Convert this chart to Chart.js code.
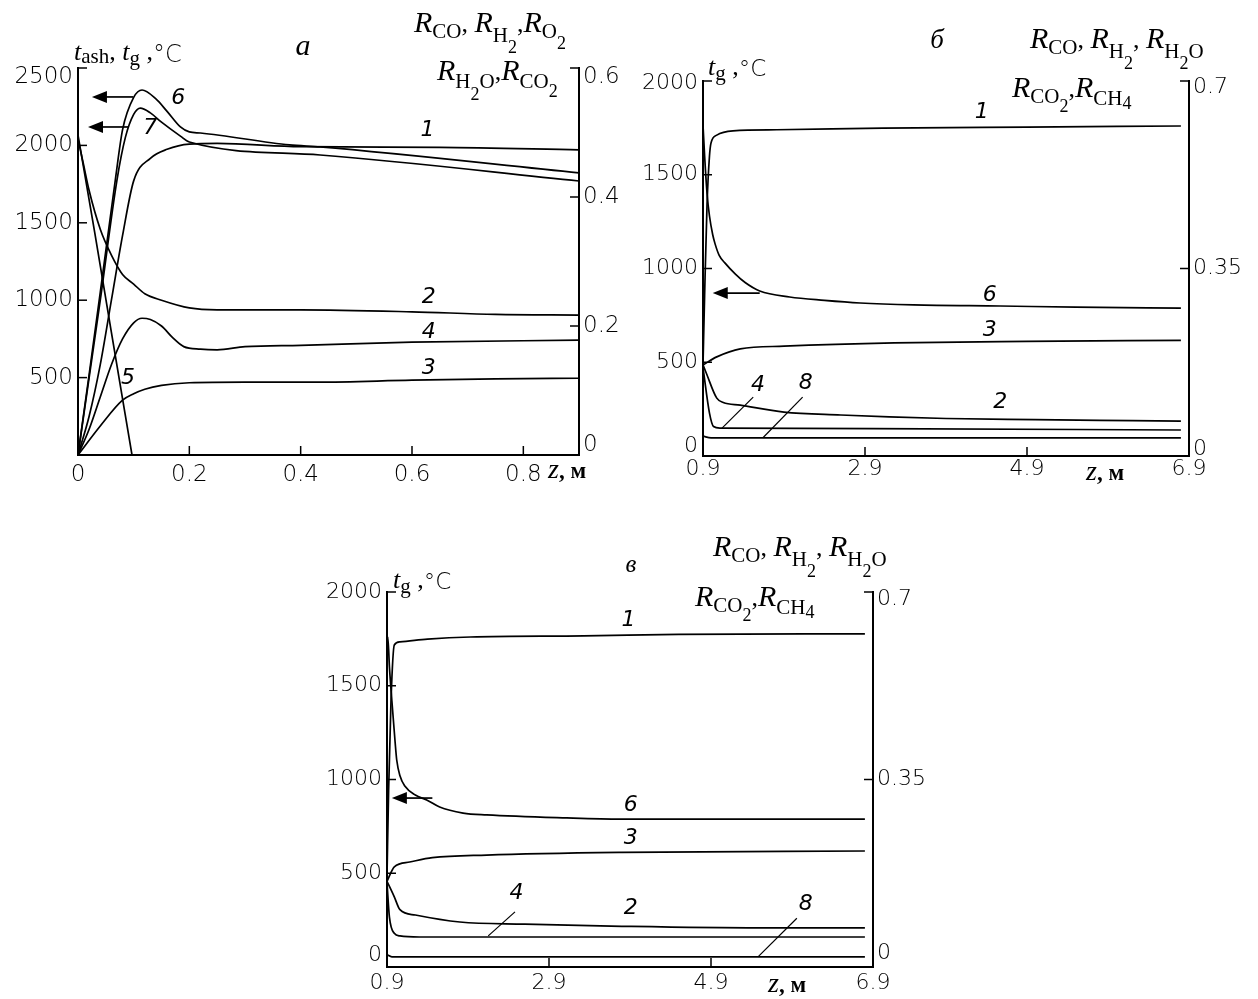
<!DOCTYPE html>
<html><head><meta charset="utf-8">
<script src="https://cdn.jsdelivr.net/npm/chart.js@4.4.1/dist/chart.umd.min.js"></script>
<style>
html,body{margin:0;padding:0;background:#fff;}
canvas{position:absolute;left:0;top:0;}
</style></head>
<body>
<canvas id="ca" width="1258" height="999"></canvas>
<canvas id="cb" width="1258" height="999"></canvas>
<canvas id="cv" width="1258" height="999"></canvas>
<script>
// ---------- Panel а (z 0..0.9 m) ----------
const A_X_TICKS = [0, 0.2, 0.4, 0.6, 0.8];
const A_TL_TICKS = [0, 500, 1000, 1500, 2000, 2500];
const A_R_TICKS = [0, 0.2, 0.4, 0.6];

const A_Z1 = [0, 0.02, 0.04, 0.06, 0.08, 0.1, 0.13, 0.16, 0.2, 0.25, 0.4, 0.65, 0.9];
const A_R1 = [0, 0.06, 0.14, 0.24, 0.34, 0.425, 0.46, 0.474, 0.482, 0.483, 0.478, 0.477, 0.473];
const A_Z2 = [0, 0.01, 0.02, 0.04, 0.06, 0.08, 0.1, 0.12, 0.15, 0.2, 0.25, 0.4, 0.6, 0.75, 0.9];
const A_R2 = [0.49, 0.45, 0.41, 0.35, 0.31, 0.28, 0.265, 0.25, 0.24, 0.228, 0.225, 0.225, 0.222, 0.218, 0.217];
const A_Z3 = [0, 0.04, 0.08, 0.1, 0.12, 0.15, 0.2, 0.3, 0.43, 0.6, 0.75, 0.9];
const A_R3 = [0, 0.045, 0.085, 0.095, 0.102, 0.108, 0.112, 0.113, 0.113, 0.116, 0.118, 0.119];
const A_Z4 = [0, 0.02, 0.04, 0.06, 0.08, 0.1, 0.115, 0.13, 0.15, 0.17, 0.19, 0.22, 0.25, 0.3, 0.4, 0.6, 0.9];
const A_R4 = [0, 0.04, 0.09, 0.14, 0.18, 0.205, 0.212, 0.21, 0.2, 0.182, 0.168, 0.164, 0.163, 0.168, 0.17, 0.175, 0.178];
const A_Z5 = [0, 0.03, 0.06, 0.097];
const A_R5 = [0.496, 0.345, 0.19, 0];
const A_Z6 = [0, 0.02, 0.04, 0.067, 0.08, 0.1, 0.115, 0.14, 0.16, 0.184, 0.2, 0.22, 0.38, 0.435, 0.9];
const A_T6 = [0, 520, 1050, 1776, 2100, 2310, 2358, 2300, 2220, 2119, 2087, 2080, 2003, 1990, 1822];
const A_Z7 = [0, 0.02, 0.04, 0.07, 0.085, 0.1, 0.112, 0.13, 0.15, 0.184, 0.2, 0.435, 0.9];
const A_T7 = [0, 500, 1000, 1776, 2050, 2200, 2241, 2210, 2150, 2060, 2022, 1938, 1770];

// ---------- Panel б (z 0.9..6.9 m) ----------
const BV_X_TICKS = [0.9, 2.9, 4.9, 6.9];
const BV_TL_TICKS = [0, 500, 1000, 1500, 2000];
const BV_R_TICKS = [0, 0.35, 0.7];

const B_Z1 = [0.9, 0.92, 0.95, 0.98, 1.0, 1.07, 1.27, 1.81, 3.12, 4.9, 6.8];
const B_R1 = [0.17, 0.3, 0.47, 0.56, 0.585, 0.599, 0.607, 0.609, 0.612, 0.614, 0.616];
const B_Z2 = [0.9, 0.94, 1.07, 1.15, 1.36, 1.9, 2.6, 3.2, 3.9, 5.0, 6.2, 6.8];
const B_R2 = [0.17, 0.155, 0.108, 0.1, 0.095, 0.082, 0.0765, 0.073, 0.07, 0.068, 0.066, 0.065];
const B_Z3 = [0.9, 1.07, 1.36, 1.9, 3.26, 4.9, 6.8];
const B_R3 = [0.17, 0.185, 0.2, 0.205, 0.211, 0.214, 0.216];
const B_Z4 = [0.9, 0.98, 1.03, 1.11, 3.0, 6.8];
const B_R4 = [0.165, 0.08, 0.055, 0.052, 0.051, 0.0485];
const B_Z6 = [0.9, 0.92, 0.95, 0.98, 1.02, 1.05, 1.1, 1.17, 1.3, 1.42, 1.6, 1.97, 2.4, 2.84, 3.5, 4.57, 5.5, 6.8];
const B_T6 = [1765, 1600, 1400, 1280, 1180, 1130, 1070, 1030, 970, 925, 880, 848, 830, 816, 806, 800, 794, 789];
const B_Z8 = [0.9, 1.0, 6.8];
const B_R8 = [0.037, 0.034, 0.034];

// ---------- Panel в (z 0.9..6.9 m) ----------
const V_Z1 = [0.9, 0.92, 0.95, 0.99, 1.06, 1.4, 1.93, 3.33, 4.5, 6.8];
const V_R1 = [0.17, 0.33, 0.5, 0.601, 0.607, 0.612, 0.616, 0.618, 0.621, 0.622];
const V_Z2 = [0.9, 0.99, 1.06, 1.25, 1.8, 2.6, 3.8, 5.5, 6.8];
const V_R2 = [0.16, 0.131, 0.107, 0.097, 0.084, 0.08, 0.076, 0.073, 0.073];
const V_Z3 = [0.9, 0.99, 1.18, 1.46, 2.13, 3.8, 6.8];
const V_R3 = [0.16, 0.187, 0.196, 0.204, 0.209, 0.214, 0.2165];
const V_Z4 = [0.9, 0.93, 0.99, 1.06, 1.3, 6.8];
const V_R4 = [0.157, 0.093, 0.063, 0.058, 0.056, 0.056];
const V_Z6 = [0.9, 0.91, 0.93, 0.96, 1.0, 1.02, 1.06, 1.12, 1.25, 1.39, 1.55, 1.84, 2.13, 3.12, 3.78, 6.8];
const V_T6 = [1700, 1760, 1600, 1420, 1200, 1104, 1020, 965, 917, 891, 853, 821, 811, 795, 789, 789];
const V_Z8 = [0.9, 0.96, 6.8];
const V_R8 = [0.023, 0.019, 0.019];

// ---------- helpers ----------
const SERIF = '"Liberation Serif", "Times New Roman", serif';
const SANS = '"DejaVu Sans", sans-serif';
const RI = 'italic 30px ' + SERIF;
const SUB = '21px ' + SERIF;
const SUB2 = '18px ' + SERIF;
const COM = '26px ' + SERIF;
const TI = 'italic 26px ' + SERIF;
const TSUB = '21px ' + SERIF;
const NUMF = 'italic 200 22px ' + SANS;

function pts(xs, ys) { return xs.map((x, i) => ({x: x, y: ys[i]})); }
function ds(xs, ys, axis) {
  return {data: pts(xs, ys), yAxisID: axis, borderColor: '#000', borderWidth: 1.7,
    pointRadius: 0, fill: false, cubicInterpolationMode: 'monotone'};
}
function rich(ctx, x, y, parts) {
  let cx = x;
  ctx.textBaseline = 'alphabetic'; ctx.textAlign = 'left'; ctx.fillStyle = '#000';
  for (const [t, f, dy] of parts) { ctx.font = f; ctx.fillText(t, cx, y + dy); cx += ctx.measureText(t).width; }
}
function fmt(v) { return String(+(+v).toFixed(2)); }
function tickAxis(values) {
  return function (s) { s.ticks = values.map(v => ({value: v})); };
}
function arrow(ctx, x1, x2, y) {
  ctx.strokeStyle = '#000'; ctx.fillStyle = '#000'; ctx.lineWidth = 1.7;
  ctx.beginPath(); ctx.moveTo(x1 + 12, y); ctx.lineTo(x2, y); ctx.stroke();
  ctx.beginPath(); ctx.moveTo(x1, y); ctx.lineTo(x1 + 15, y - 6); ctx.lineTo(x1 + 15, y + 6); ctx.closePath(); ctx.fill();
}
function seg(ctx, x1, y1, x2, y2) {
  ctx.strokeStyle = '#000'; ctx.lineWidth = 1.2;
  ctx.beginPath(); ctx.moveTo(x1, y1); ctx.lineTo(x2, y2); ctx.stroke();
}
function label(ctx, t, x, y, f) {
  ctx.font = f || NUMF; ctx.fillStyle = '#000'; ctx.textAlign = 'center'; ctx.textBaseline = 'middle';
  ctx.fillText(t, x, y);
}

const inTicks = {
  id: 'inTicks',
  afterDraw(chart) {
    const ctx = chart.ctx; ctx.save(); ctx.strokeStyle = '#000'; ctx.lineWidth = 1.5;
    for (const id of Object.keys(chart.scales)) {
      const s = chart.scales[id]; const L = 9;
      for (const t of s.ticks) {
        const p = s.getPixelForValue(t.value);
        ctx.beginPath();
        if (s.position === 'left') { ctx.moveTo(s.right, p); ctx.lineTo(s.right + L, p); }
        else if (s.position === 'right') { ctx.moveTo(s.left, p); ctx.lineTo(s.left - L, p); }
        else { ctx.moveTo(p, s.top); ctx.lineTo(p, s.top - L); }
        ctx.stroke();
      }
    }
    ctx.restore();
  }
};

// labels at the ends of the value axes are drawn by the plugin, nudged inwards as in the original
function edgeLabels(chart, c, fs, shift) {
  c.font = '200 ' + fs + 'px ' + SANS; c.fillStyle = '#000'; c.textBaseline = 'middle';
  for (const id of ['yL', 'yR']) {
    const s = chart.scales[id]; const m = shift[id] || {};
    for (const k of Object.keys(m)) {
      if (m[k] === null) continue;
      const v = +k; const p = s.getPixelForValue(v) + m[k];
      if (id === 'yL') { c.textAlign = 'right'; c.fillText(fmt(v), s.right - 5, p); }
      else { c.textAlign = 'left'; c.fillText(fmt(v), s.left + 4, p); }
    }
  }
}

function makeChart(id, o) {
  const tickFont = {family: SANS, size: o.fs, weight: 200};
  const common = {grid: {display: false, drawTicks: false}, border: {display: true, color: '#000', width: 2}};
  const hide = (axis) => (v => (o.shift[axis] && (String(v) in o.shift[axis])) ? '' : fmt(v));
  return new Chart(document.getElementById(id), {
    type: 'line',
    data: {datasets: o.datasets},
    options: {
      responsive: false, animation: false, events: [],
      layout: {padding: o.pad},
      plugins: {legend: {display: false}, tooltip: {enabled: false}},
      scales: {
        x: Object.assign({}, common, {type: 'linear', position: 'bottom', min: o.xmin, max: o.xmax,
          afterBuildTicks: tickAxis(o.xt), afterFit: s => { s.height = 30; },
          ticks: {font: tickFont, color: '#000', padding: o.xpad, autoSkip: false, maxRotation: 0, callback: v => fmt(v)}}),
        yL: Object.assign({}, common, {type: 'linear', position: 'left', min: 0, max: o.tmax,
          afterBuildTicks: tickAxis(o.tt), afterFit: s => { s.width = 70; },
          ticks: {font: tickFont, color: '#000', padding: 5, callback: hide('yL')}}),
        yR: Object.assign({}, common, {type: 'linear', position: 'right', min: 0, max: o.rmax,
          afterBuildTicks: tickAxis(o.rt), afterFit: s => { s.width = 60; },
          ticks: {font: tickFont, color: '#000', padding: 4, callback: hide('yR')}})
      }
    },
    plugins: [inTicks, {id: 'deco' + id, afterDraw: chart => {
      const c = chart.ctx; c.save(); edgeLabels(chart, c, o.fs, o.shift); o.deco(chart, c); c.restore(); }}]
  });
}

function zm(c, x, y) {
  rich(c, x, y, [['z', 'italic 28px ' + SERIF, 0], [', ', 'bold 23px ' + SERIF, 0], ['м', 'bold 23px ' + SERIF, 0]]);
}
const TITLE_BV1 = [['R', RI, 0], ['CO', SUB, 6], [', ', COM, 0], ['R', RI, 0], ['H', SUB, 10], ['2', SUB2, 21], [', ', COM, 0], ['R', RI, 0], ['H', SUB, 10], ['2', SUB2, 21], ['O', SUB, 10]];
const TITLE_BV2 = [['R', RI, 0], ['CO', SUB, 6], ['2', SUB2, 15], [',', COM, 0], ['R', RI, 0], ['CH', SUB, 8], ['4', SUB2, 12]];

// ---------- Panel а ----------
makeChart('ca', {
  fs: 23, xpad: 6,
  pad: {left: 8, right: 619, top: 68, bottom: 514},
  xmin: 0, xmax: 0.9, tmax: 2500, rmax: 0.6,
  xt: A_X_TICKS, tt: A_TL_TICKS, rt: A_R_TICKS,
  shift: {yL: {'0': null, '2500': 9}, yR: {'0': -10, '0.6': 9}},
  datasets: [ds(A_Z1, A_R1, 'yR'), ds(A_Z2, A_R2, 'yR'), ds(A_Z3, A_R3, 'yR'), ds(A_Z4, A_R4, 'yR'),
             ds(A_Z5, A_R5, 'yR'), ds(A_Z6, A_T6, 'yL'), ds(A_Z7, A_T7, 'yL')],
  deco: (ch, c) => {
    const X = ch.scales.x, T = ch.scales.yL, R = ch.scales.yR;
    rich(c, 74, 60, [['t', TI, 0], ['ash', TSUB, 3], [',', COM, 0], [' t', TI, 0], ['g', TSUB, 5], [' ,', COM, 0], ['°C', '200 24px ' + SANS, 2]]);
    rich(c, 414, 32, [['R', RI, 0], ['CO', SUB, 6], [', ', COM, 0], ['R', RI, 0], ['H', SUB, 10], ['2', SUB2, 21], [',', COM, 0], ['R', RI, 0], ['O', SUB, 6], ['2', SUB2, 17]]);
    rich(c, 437, 80, [['R', RI, 0], ['H', SUB, 8], ['2', SUB2, 20], ['O', SUB, 8], [',', COM, 0], ['R', RI, 0], ['CO', SUB, 8], ['2', SUB2, 17]]);
    label(c, 'a', 303, 47, 'italic 30px ' + SERIF);
    label(c, '1', X.getPixelForValue(0.628), R.getPixelForValue(0.504));
    label(c, '2', X.getPixelForValue(0.63), R.getPixelForValue(0.245));
    label(c, '4', X.getPixelForValue(0.63), R.getPixelForValue(0.19));
    label(c, '3', X.getPixelForValue(0.63), R.getPixelForValue(0.135));
    label(c, '5', X.getPixelForValue(0.09), R.getPixelForValue(0.119));
    label(c, '6', X.getPixelForValue(0.18), T.getPixelForValue(2306));
    label(c, '7', X.getPixelForValue(0.13), T.getPixelForValue(2112));
    arrow(c, X.getPixelForValue(0.025), X.getPixelForValue(0.099), T.getPixelForValue(2313));
    arrow(c, X.getPixelForValue(0.018), X.getPixelForValue(0.09), T.getPixelForValue(2119));
    zm(c, 548, 478);
  }
});

// ---------- Panel б ----------
makeChart('cb', {
  fs: 22, xpad: 0,
  pad: {left: 633, right: 9, top: 81, bottom: 513},
  xmin: 0.9, xmax: 6.9, tmax: 2000, rmax: 0.7,
  xt: BV_X_TICKS, tt: BV_TL_TICKS, rt: BV_R_TICKS,
  shift: {yL: {'0': -10, '2000': 2}, yR: {'0': -7, '0.7': 6}},
  datasets: [ds(B_Z1, B_R1, 'yR'), ds(B_Z2, B_R2, 'yR'), ds(B_Z3, B_R3, 'yR'), ds(B_Z4, B_R4, 'yR'),
             ds(B_Z6, B_T6, 'yL'), ds(B_Z8, B_R8, 'yR')],
  deco: (ch, c) => {
    const X = ch.scales.x, T = ch.scales.yL, R = ch.scales.yR;
    rich(c, 708, 75, [['t', TI, 0], ['g', TSUB, 5], [' ,', COM, 0], ['°C', '200 23px ' + SANS, 1]]);
    rich(c, 1030, 48, TITLE_BV1);
    rich(c, 1012, 97, TITLE_BV2);
    label(c, 'б', 937, 41, 'italic 27px ' + SERIF);
    label(c, '1', X.getPixelForValue(4.34), R.getPixelForValue(0.642));
    label(c, '6', X.getPixelForValue(4.44), T.getPixelForValue(859));
    label(c, '3', X.getPixelForValue(4.44), R.getPixelForValue(0.235));
    label(c, '2', X.getPixelForValue(4.57), R.getPixelForValue(0.101));
    label(c, '4', X.getPixelForValue(1.58), R.getPixelForValue(0.1325));
    label(c, '8', X.getPixelForValue(2.17), R.getPixelForValue(0.136));
    seg(c, X.getPixelForValue(1.135), R.getPixelForValue(0.052), X.getPixelForValue(1.52), R.getPixelForValue(0.11));
    seg(c, X.getPixelForValue(1.64), R.getPixelForValue(0.034), X.getPixelForValue(2.13), R.getPixelForValue(0.11));
    arrow(c, X.getPixelForValue(1.02), X.getPixelForValue(1.6), T.getPixelForValue(869));
    zm(c, 1086, 480);
  }
});

// ---------- Panel в ----------
makeChart('cv', {
  fs: 22, xpad: 3,
  pad: {left: 317, right: 325, top: 592, bottom: 2},
  xmin: 0.9, xmax: 6.9, tmax: 2000, rmax: 0.7,
  xt: BV_X_TICKS, tt: BV_TL_TICKS, rt: BV_R_TICKS,
  shift: {yL: {'0': -12}, yR: {'0': -14, '0.7': 7}},
  datasets: [ds(V_Z1, V_R1, 'yR'), ds(V_Z2, V_R2, 'yR'), ds(V_Z3, V_R3, 'yR'), ds(V_Z4, V_R4, 'yR'),
             ds(V_Z6, V_T6, 'yL'), ds(V_Z8, V_R8, 'yR')],
  deco: (ch, c) => {
    const X = ch.scales.x, T = ch.scales.yL, R = ch.scales.yR;
    rich(c, 393, 588, [['t', TI, 0], ['g', TSUB, 5], [' ,', COM, 0], ['°C', '200 23px ' + SANS, 1]]);
    rich(c, 713, 556, TITLE_BV1);
    rich(c, 695, 606, TITLE_BV2);
    label(c, 'в', 631, 565, 'italic 25px ' + SERIF);
    label(c, '1', X.getPixelForValue(3.88), R.getPixelForValue(0.648));
    label(c, '6', X.getPixelForValue(3.91), T.getPixelForValue(864));
    label(c, '3', X.getPixelForValue(3.91), R.getPixelForValue(0.241));
    label(c, '2', X.getPixelForValue(3.91), R.getPixelForValue(0.11));
    label(c, '4', X.getPixelForValue(2.5), R.getPixelForValue(0.138));
    label(c, '8', X.getPixelForValue(6.07), R.getPixelForValue(0.118));
    seg(c, X.getPixelForValue(2.15), R.getPixelForValue(0.058), X.getPixelForValue(2.48), R.getPixelForValue(0.103));
    seg(c, X.getPixelForValue(5.48), R.getPixelForValue(0.019), X.getPixelForValue(5.96), R.getPixelForValue(0.091));
    arrow(c, X.getPixelForValue(0.96), X.getPixelForValue(1.46), T.getPixelForValue(901));
    zm(c, 768, 992);
  }
});
</script>
</body></html>
